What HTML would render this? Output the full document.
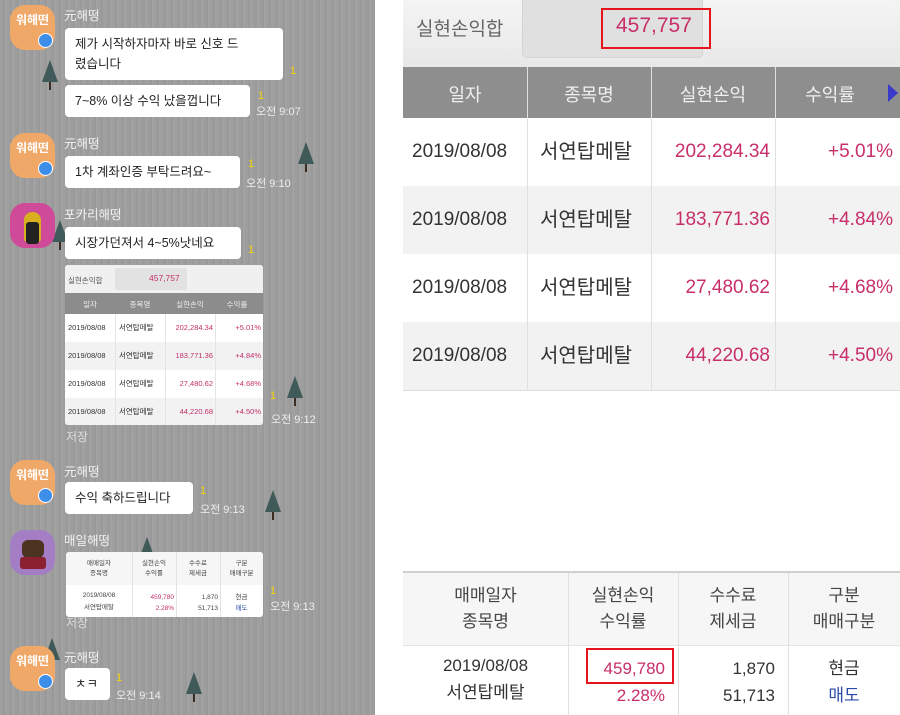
<!DOCTYPE html>
<html><head><meta charset="utf-8"><style>
*{margin:0;padding:0;box-sizing:border-box}
body{width:900px;height:715px;position:relative;overflow:hidden;background:#fff;font-family:"Liberation Sans","Noto Sans CJK KR",sans-serif}
.a{position:absolute}
#left{position:absolute;left:0;top:0;width:375px;height:715px;background:repeating-linear-gradient(90deg,#9e9e9e 0,#9e9e9e 3px,#999 3px,#999 5px,#a2a2a2 5px,#a2a2a2 7px)}
.av{position:absolute;left:10px;width:45px;height:45px;border-radius:15px;color:#fff;font-size:12px;font-weight:bold;text-align:center;padding-top:6px}
.bd{position:absolute;left:38px;width:15px;height:15px;border-radius:50%;background:#3d8ee8;border:1.5px solid #fff}
.nm{position:absolute;left:64px;font-size:12.5px;color:#f2f2f2}
.bu{position:absolute;left:65px;background:#fff;border-radius:4px;font-size:12.5px;color:#222;padding:6px 10px;line-height:20px;white-space:nowrap}
.one{position:absolute;font-size:11px;color:#f5d400}
.tm{position:absolute;font-size:11px;color:#eee}
.tr{position:absolute;width:0;height:0;border-left:8px solid transparent;border-right:8px solid transparent;border-bottom:22px solid #3f5a58}
.tr:after{content:"";position:absolute;left:-1px;top:22px;width:2px;height:8px;background:#3a2c20}
.c{position:absolute;text-align:center}
</style></head><body>
<div id="left">
<div class="tr" style="left:42px;top:60px"></div>
<div class="tr" style="left:298px;top:142px"></div>
<div class="tr" style="left:52px;top:220px"></div>
<div class="tr" style="left:287px;top:376px"></div>
<div class="tr" style="left:265px;top:490px"></div>
<div class="tr" style="left:139px;top:537px"></div>
<div class="tr" style="left:44px;top:638px"></div>
<div class="tr" style="left:186px;top:672px"></div>

<div class="av" style="top:5px;background:#f0a868">워해떤</div><div class="bd" style="top:33px"></div>
<div class="nm" style="top:5px">元해떵</div>
<div class="bu" style="top:28px;width:218px">제가 시작하자마자 바로 신호 드<br>렸습니다</div>
<div class="one" style="left:290px;top:65px">1</div>
<div class="bu" style="top:85px;width:185px">7~8% 이상 수익 났을껍니다</div>
<div class="one" style="left:258px;top:90px">1</div><div class="tm" style="left:256px;top:103px">오전 9:07</div>

<div class="av" style="top:133px;background:#f0a868">워해떤</div><div class="bd" style="top:161px"></div>
<div class="nm" style="top:133px">元해떵</div>
<div class="bu" style="top:156px;width:175px">1차 계좌인증 부탁드려요~</div>
<div class="one" style="left:248px;top:158px">1</div><div class="tm" style="left:246px;top:175px">오전 9:10</div>

<div class="av" style="top:203px;background:#cf4a98"></div>
<div class="a" style="left:24px;top:212px;width:17px;height:30px;background:#d8b020;border-radius:8px 8px 3px 3px"></div>
<div class="a" style="left:26px;top:222px;width:13px;height:22px;background:#222;border-radius:3px"></div>
<div class="nm" style="top:204px">포카리해떵</div>
<div class="bu" style="top:227px;width:176px">시장가던져서 4~5%낫네요</div>
<div class="one" style="left:248px;top:244px">1</div>

<div class="a" style="left:65px;top:265px;width:198px;height:160px;background:#fff;border-radius:3px;overflow:hidden;font-size:7.5px">
 <div class="a" style="left:0;top:0;width:198px;height:28px;background:#f0f0f0"></div>
 <div class="a" style="left:3px;top:10px;color:#555">실현손익합</div>
 <div class="a" style="left:50px;top:3px;width:72px;height:22px;background:#e2e2e2;border-radius:2px"></div>
 <div class="a" style="left:84px;top:8px;color:#c2306a;font-size:8.5px">457,757</div>
 <div class="a" style="left:0;top:28px;width:198px;height:21px;background:#8c8c8c"></div>
 <div class="c" style="left:0;top:34px;width:50px;color:#eee">일자</div>
 <div class="c" style="left:50px;top:34px;width:50px;color:#eee">종목명</div>
 <div class="c" style="left:100px;top:34px;width:50px;color:#eee">실현손익</div>
 <div class="c" style="left:150px;top:34px;width:44px;color:#eee">수익률</div>
 <div class="a" style="left:0;top:77px;width:198px;height:28px;background:#f2f2f2"></div>
 <div class="a" style="left:0;top:133px;width:198px;height:28px;background:#f2f2f2"></div>
 <div class="a" style="left:50px;top:49px;width:1px;height:111px;background:#e4e4e4"></div>
 <div class="a" style="left:100px;top:49px;width:1px;height:111px;background:#e4e4e4"></div>
 <div class="a" style="left:150px;top:49px;width:1px;height:111px;background:#e4e4e4"></div>
 <div class="a" style="left:3px;top:49px;color:#333;line-height:28px">2019/08/08<br>2019/08/08<br>2019/08/08<br>2019/08/08</div>
 <div class="a" style="left:54px;top:49px;color:#333;line-height:28px">서연탑메탈<br>서연탑메탈<br>서연탑메탈<br>서연탑메탈</div>
 <div class="a" style="left:100px;top:49px;width:48px;text-align:right;color:#c2306a;line-height:28px">202,284.34<br>183,771.36<br>27,480.62<br>44,220.68</div>
 <div class="a" style="left:150px;top:49px;width:46px;text-align:right;color:#c2306a;line-height:28px">+5.01%<br>+4.84%<br>+4.68%<br>+4.50%</div>
</div>
<div class="one" style="left:270px;top:390px">1</div><div class="tm" style="left:271px;top:411px">오전 9:12</div>
<div class="a" style="left:66px;top:428px;font-size:12px;color:#ddd">저장</div>

<div class="av" style="top:460px;background:#f0a868">워해떤</div><div class="bd" style="top:488px"></div>
<div class="nm" style="top:461px">元해떵</div>
<div class="bu" style="top:482px;width:128px">수익 축하드립니다</div>
<div class="one" style="left:200px;top:485px">1</div><div class="tm" style="left:200px;top:501px">오전 9:13</div>

<div class="av" style="top:530px;background:#a37ec4"></div>
<div class="a" style="left:22px;top:540px;width:22px;height:18px;background:#4a3420;border-radius:6px"></div>
<div class="a" style="left:20px;top:557px;width:26px;height:12px;background:#8a2030;border-radius:3px"></div>
<div class="nm" style="top:530px">매일해떵</div>
<div class="a" style="left:66px;top:552px;width:197px;height:65px;background:#fff;border-radius:3px;font-size:6.5px;color:#444;overflow:hidden">
 <div class="a" style="left:0;top:0;width:197px;height:33px;background:#f6f6f6"></div>
 <div class="a" style="left:66px;top:0;width:1px;height:65px;background:#e2e2e2"></div>
 <div class="a" style="left:110px;top:0;width:1px;height:65px;background:#e2e2e2"></div>
 <div class="a" style="left:154px;top:0;width:1px;height:65px;background:#e2e2e2"></div>
 <div class="c" style="left:0;top:7px;width:66px;line-height:10px">매매일자<br>종목명</div>
 <div class="c" style="left:66px;top:7px;width:44px;line-height:10px">실현손익<br>수익률</div>
 <div class="c" style="left:110px;top:7px;width:44px;line-height:10px">수수료<br>제세금</div>
 <div class="c" style="left:154px;top:7px;width:43px;line-height:10px">구분<br>매매구분</div>
 <div class="c" style="left:0;top:38px;width:66px;line-height:12px">2019/08/08<br>서연탑메탈</div>
 <div class="a" style="left:66px;top:40px;width:42px;text-align:right;line-height:11px;color:#c2306a">459,780<br>2.28%</div>
 <div class="a" style="left:110px;top:40px;width:42px;text-align:right;line-height:11px">1,870<br>51,713</div>
 <div class="c" style="left:154px;top:40px;width:43px;line-height:11px">현금<br><span style="color:#2b4aa8">매도</span></div>
</div>
<div class="one" style="left:270px;top:585px">1</div><div class="tm" style="left:270px;top:598px">오전 9:13</div>
<div class="a" style="left:66px;top:614px;font-size:12px;color:#ddd">저장</div>

<div class="av" style="top:646px;background:#f0a868">워해떤</div><div class="bd" style="top:674px"></div>
<div class="nm" style="top:647px">元해떵</div>
<div class="bu" style="top:668px;width:45px">ㅊㅋ</div>
<div class="one" style="left:116px;top:672px">1</div><div class="tm" style="left:116px;top:687px">오전 9:14</div>
</div>

<!-- right panel -->
<div class="a" style="left:403px;top:0;width:497px;height:67px;background:linear-gradient(#f4f4f4,#e8e8e8)"></div>
<div class="a" style="left:416px;top:14px;font-size:19px;color:#666">실현손익합</div>
<div class="a" style="left:522px;top:-4px;width:181px;height:62px;background:#e0e0e0;border-radius:5px;border:1px solid #d4d4d4"></div>
<div class="a" style="left:601px;top:8px;width:110px;height:41px;border:2px solid #e8141c"></div>
<div class="a" style="left:616px;top:14px;font-size:21px;color:#c82e68">457,757</div>
<div class="a" style="left:403px;top:67px;width:497px;height:51px;background:#8e8e8e"></div>
<div class="c" style="left:403px;top:81px;width:124px;font-size:18px;color:#f0f0f0">일자</div>
<div class="c" style="left:527px;top:81px;width:124px;font-size:18px;color:#f0f0f0">종목명</div>
<div class="c" style="left:651px;top:81px;width:124px;font-size:18px;color:#f0f0f0">실현손익</div>
<div class="c" style="left:775px;top:81px;width:110px;font-size:18px;color:#f0f0f0">수익률</div>
<div class="a" style="left:888px;top:84px;width:0;height:0;border-top:9px solid transparent;border-bottom:9px solid transparent;border-left:10px solid #3a3ac8"></div>
<div class="a" style="left:403px;top:186px;width:497px;height:68px;background:#f2f2f2"></div>
<div class="a" style="left:403px;top:322px;width:497px;height:68px;background:#f2f2f2"></div>
<div class="a" style="left:403px;top:390px;width:497px;height:1px;background:#ddd"></div>
<div class="a" style="left:527px;top:67px;width:1px;height:323px;background:#e0e0e0"></div>
<div class="a" style="left:651px;top:67px;width:1px;height:323px;background:#e0e0e0"></div>
<div class="a" style="left:775px;top:67px;width:1px;height:323px;background:#e0e0e0"></div>
<div class="a" style="left:412px;top:118px;font-size:19px;color:#333;line-height:68px">2019/08/08<br>2019/08/08<br>2019/08/08<br>2019/08/08</div>
<div class="a" style="left:540px;top:118px;font-size:20px;color:#333;line-height:68px">서연탑메탈<br>서연탑메탈<br>서연탑메탈<br>서연탑메탈</div>
<div class="a" style="left:651px;top:118px;width:119px;text-align:right;font-size:19px;color:#c82e68;line-height:68px">202,284.34<br>183,771.36<br>27,480.62<br>44,220.68</div>
<div class="a" style="left:775px;top:118px;width:118px;text-align:right;font-size:19px;color:#c82e68;line-height:68px">+5.01%<br>+4.84%<br>+4.68%<br>+4.50%</div>

<div class="a" style="left:403px;top:571px;width:497px;height:2px;background:#cfcfcf"></div>
<div class="a" style="left:403px;top:573px;width:497px;height:72px;background:#f6f6f6"></div>
<div class="a" style="left:403px;top:645px;width:497px;height:1px;background:#e4e4e4"></div>
<div class="a" style="left:568px;top:573px;width:1px;height:142px;background:#e0e0e0"></div>
<div class="a" style="left:678px;top:573px;width:1px;height:142px;background:#e0e0e0"></div>
<div class="a" style="left:788px;top:573px;width:1px;height:142px;background:#e0e0e0"></div>
<div class="c" style="left:403px;top:583px;width:165px;font-size:17px;color:#444;line-height:26px">매매일자<br>종목명</div>
<div class="c" style="left:568px;top:583px;width:110px;font-size:17px;color:#444;line-height:26px">실현손익<br>수익률</div>
<div class="c" style="left:678px;top:583px;width:110px;font-size:17px;color:#444;line-height:26px">수수료<br>제세금</div>
<div class="c" style="left:788px;top:583px;width:112px;font-size:17px;color:#444;line-height:26px">구분<br>매매구분</div>
<div class="c" style="left:403px;top:652px;width:165px;font-size:17px;color:#333;line-height:27px">2019/08/08<br>서연탑메탈</div>
<div class="a" style="left:586px;top:648px;width:88px;height:36px;border:2px solid #e8141c"></div>
<div class="a" style="left:568px;top:655px;width:97px;text-align:right;font-size:17px;color:#c82e68;line-height:27px">459,780<br>2.28%</div>
<div class="a" style="left:678px;top:655px;width:97px;text-align:right;font-size:17px;color:#333;line-height:27px">1,870<br>51,713</div>
<div class="c" style="left:788px;top:655px;width:112px;font-size:17px;color:#333;line-height:27px">현금<br><span style="color:#2b4aa8">매도</span></div>
</body></html>
